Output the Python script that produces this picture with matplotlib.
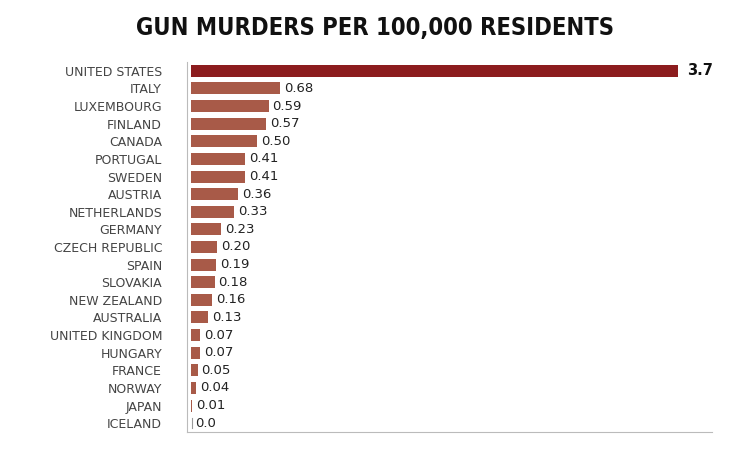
import matplotlib.pyplot as plt

countries = ["UNITED STATES", "ITALY", "LUXEMBOURG", "FINLAND", "CANADA", "PORTUGAL",
             "SWEDEN", "AUSTRIA", "NETHERLANDS", "GERMANY", "CZECH REPUBLIC", "SPAIN",
             "SLOVAKIA", "NEW ZEALAND", "AUSTRALIA", "UNITED KINGDOM", "HUNGARY",
             "FRANCE", "NORWAY", "JAPAN", "ICELAND"]
rates = [3.7, 0.68, 0.59, 0.57, 0.50, 0.41, 0.41, 0.36, 0.33, 0.23, 0.20, 0.19,
         0.18, 0.16, 0.13, 0.07, 0.07, 0.05, 0.04, 0.01, 0.0]
labels = ["3.7", "0.68", "0.59", "0.57", "0.50", "0.41", "0.41", "0.36", "0.33", "0.23",
          "0.20", "0.19", "0.18", "0.16", "0.13", "0.07", "0.07", "0.05", "0.04", "0.01", "0.0"]

fig = plt.figure(figsize=(7.5, 4.5), dpi=100)
ax = fig.add_axes([187 / 750, 1 - 432 / 450, (712 - 187) / 750, (432 - 62) / 450])

ypos = list(range(len(countries)))
colors = ["#8c1c1e"] + ["#a85a48"] * (len(countries) - 1)
ax.barh(ypos, rates, height=0.68, color=colors)
ax.set_ylim(len(countries) - 0.5, -0.5)
ax.set_xlim(-0.03, 3.96)

for i, (v, lab) in enumerate(zip(rates, labels)):
    if i == 0:
        ax.text(v + 0.07, i, lab, va="center", ha="left", fontsize=10.5,
                fontweight="bold", color="#111111")
    else:
        ax.text(max(v, 0.005) + 0.03, i, lab, va="center", ha="left", fontsize=9.5,
                color="#222222")
# iceland tick mark
ax.plot([0.005, 0.005], [20 - 0.3, 20 + 0.3], color="#999999", lw=0.8)

ax.set_yticks(ypos)
ax.set_yticklabels(countries, fontsize=9, color="#444444")
ax.tick_params(axis="y", length=0, pad=18)
ax.set_xticks([])
for s in ["top", "right"]:
    ax.spines[s].set_visible(False)
for s in ["left", "bottom"]:
    ax.spines[s].set_color("#bbbbbb")
    ax.spines[s].set_linewidth(0.8)

fig.text(375 / 750, 1 - 28 / 450, "GUN MURDERS PER 100,000 RESIDENTS", ha="center", va="center",
         fontsize=17, fontweight="bold", family="DejaVu Sans", fontstretch="condensed",
         color="#111111")

fig.savefig("out.png", dpi=100)
